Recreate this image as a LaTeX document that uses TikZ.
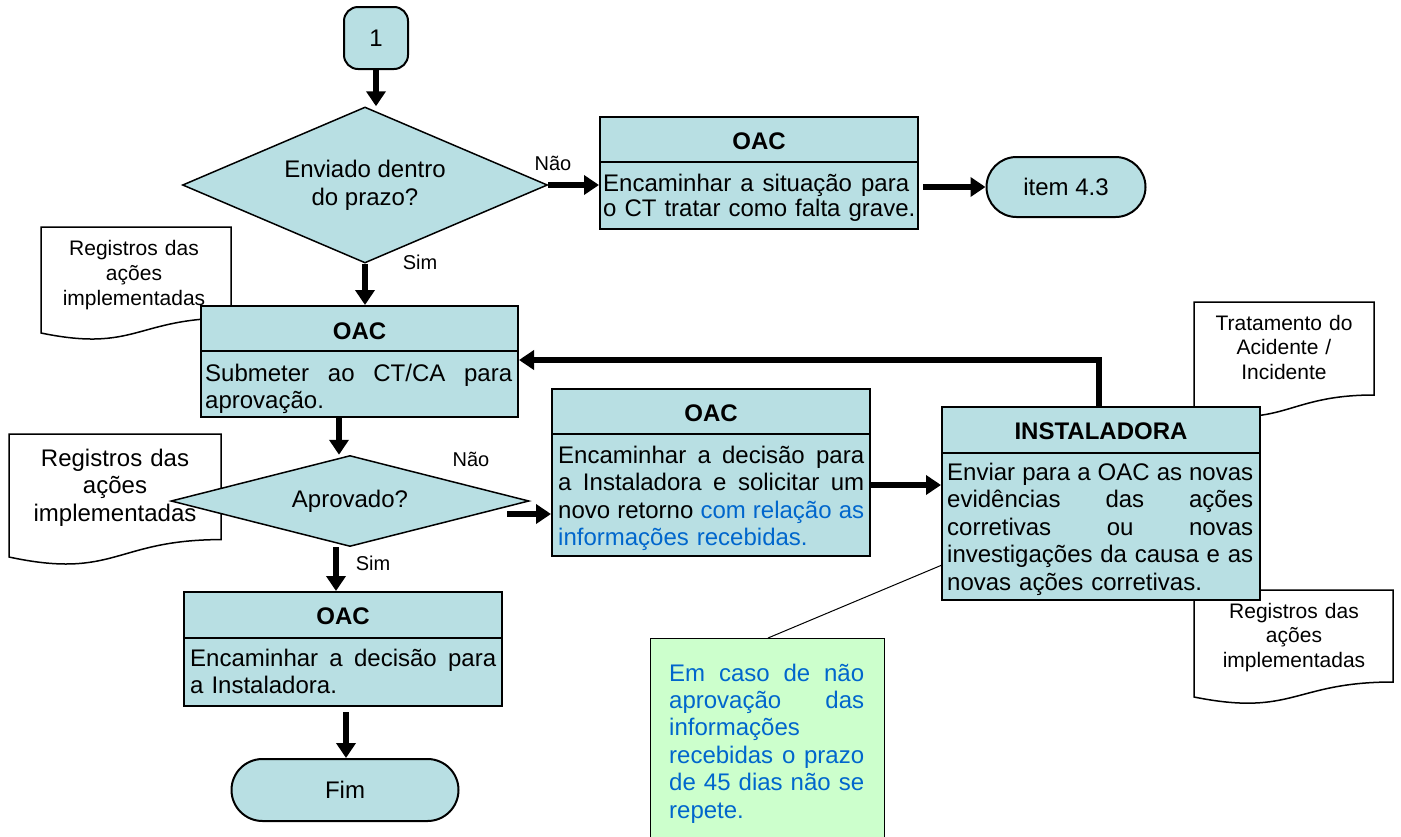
\documentclass[tikz,border=0pt]{standalone}
\usepackage{fontspec}
\setmainfont{Liberation Sans}
\usetikzlibrary{arrows.meta,shapes.geometric}
\definecolor{boxfill}{RGB}{184,223,227}
\definecolor{notefill}{RGB}{204,255,204}
\definecolor{bluetxt}{RGB}{0,102,204}
\newcommand\jl[2]{\leavevmode\hbox to #1{\spaceskip=0.278em plus 1fil\relax #2}}
\begin{document}
\begin{tikzpicture}[x=1pt,y=-1pt,
  box/.style={draw, line width=2pt, fill=boxfill, inner sep=0pt},
  divline/.style={line width=1.5pt},
  hdr/.style={font=\fontsize{24}{27.5}\selectfont\bfseries, inner sep=0pt},
  body/.style={anchor=base west, text width=316pt, align=left, inner sep=0pt, font=\fontsize{24}{27.5}\selectfont},
  term/.style={draw, line width=2pt, fill=boxfill, inner sep=0pt, font=\fontsize{24}{27.5}\selectfont},
  dec/.style={diamond, draw, line width=1.5pt, fill=boxfill, inner sep=0pt, aspect=2.3, font=\fontsize{24}{28}\selectfont, align=center},
  docshape/.style={draw, line width=1.5pt, fill=white},
  doctext/.style={anchor=base, text width=210pt, align=center, inner sep=0pt},
  lbl/.style={font=\fontsize{20}{24}\selectfont, inner sep=0pt},
  arr/.style={line width=5.5pt, -{Triangle[length=15pt,width=19pt]}}]
\useasboundingbox (0,0) rectangle (1401,836);

% documents
\draw[docshape] (41,227) -- (231,227) -- (231,318) .. controls (136,318) and (136,352.6) .. (41,333) -- cycle;
\node[doctext, font=\fontsize{21}{25}\selectfont] (doc1) at (134,255) {Registros das\\ações\\implementadas};
\draw[docshape] (9,434) -- (221,434) -- (221,539.6) .. controls (115,539.6) and (115,579.8) .. (9,557) -- cycle;
\node[doctext, font=\fontsize{24}{27.5}\selectfont] (doc2) at (115,466) {Registros das\\ações\\implementadas};
\draw[docshape] (1194,302) -- (1374,302) -- (1374,395) .. controls (1284,395) and (1284,430.4) .. (1194,410.3) -- cycle;
\node[doctext, font=\fontsize{21}{24.5}\selectfont] (doc3) at (1284,330) {Tratamento do\\Acidente /\\Incidente};
\draw[docshape] (1194,590) -- (1393,590) -- (1393,682) .. controls (1293.5,682) and (1293.5,717) .. (1194,697) -- cycle;
\node[doctext, font=\fontsize{21}{24.5}\selectfont] (doc4) at (1294,618) {Registros das\\ações\\implementadas};

% note
\coordinate (nl) at (768,638);
\draw[line width=1pt] (nl) -- (942,565);
\node[draw, line width=1pt, fill=notefill, minimum width=234pt, minimum height=212pt, inner sep=0pt] (note) at (767,744) {};
\node[anchor=base west, text width=200pt, align=left, inner sep=0pt, text=bluetxt, font=\fontsize{24}{27.4}\selectfont] (notet) at (669,681)
 {\jl{195pt}{Em caso de não}\\\jl{195pt}{aprovação das}\\informações\\\jl{195pt}{recebidas o prazo}\\\jl{195pt}{de 45 dias não se}\\repete.};

% start connector
\node[term, rounded corners=14pt, minimum width=64pt, minimum height=62pt] (c1) at (376,38) {1};

% decision 1
\node[dec, minimum width=365pt, minimum height=156pt] (d1) at (365,185) {Enviado dentro\\do prazo?};
\node[lbl] (nao1) at (553,163) {Não};
\node[lbl] (sim1) at (420,262) {Sim};

% box 1
\node[box, minimum width=318pt, minimum height=112pt] (b1) at (759,173) {};
\draw[divline] (600,162) -- (918,162);
\node[hdr] (b1h) at (759,141) {OAC};
\node[body, font=\fontsize{24}{25.5}\selectfont] (b1t) at (603,191) {\jl{306pt}{Encaminhar a situação para}\\o CT tratar como falta grave.};

% item 4.3
\node[term, rounded corners=30pt, minimum width=159pt, minimum height=60pt] (item) at (1066,187) {item 4.3};

% box 2
\node[box, minimum width=317pt, minimum height=111pt] (b2) at (359.5,361.5) {};
\draw[divline] (201,351) -- (518,351);
\node[hdr] (b2h) at (359.5,331) {OAC};
\node[body] (b2t) at (205,381) {\jl{307pt}{Submeter ao CT/CA para}\\aprovação.};

% decision 2
\node[dec, minimum width=358pt, minimum height=91pt] (d2) at (350,501) {Aprovado?};
\node[lbl] (nao2) at (471,459) {Não};
\node[lbl] (sim2) at (373,563) {Sim};

% box 3
\node[box, minimum width=318pt, minimum height=167pt] (b3) at (711,472.5) {};
\draw[divline] (552,434) -- (870,434);
\node[hdr] (b3h) at (711,413) {OAC};
\node[body] (b3t) at (558,463) {\jl{306pt}{Encaminhar a decisão para}\\\jl{306pt}{a Instaladora e solicitar um}\\\jl{306pt}{novo retorno \textcolor{bluetxt}{com relação as}}\\\textcolor{bluetxt}{informações recebidas.}};

% instaladora
\node[box, minimum width=318pt, minimum height=193pt] (inst) at (1101,503.5) {};
\draw[divline] (942,453) -- (1260,453);
\node[hdr] (insth) at (1101,431) {INSTALADORA};
\node[body] (instt) at (947,480) {\jl{306pt}{Enviar para a OAC as novas}\\\jl{306pt}{evidências das ações}\\\jl{306pt}{corretivas ou novas}\\\jl{306pt}{investigações da causa e as}\\novas ações corretivas.};

% box 5
\node[box, minimum width=318pt, minimum height=114pt] (b5) at (343,649) {};
\draw[divline] (184,638) -- (502,638);
\node[hdr] (b5h) at (343,616) {OAC};
\node[body] (b5t) at (190,666) {\jl{306pt}{Encaminhar a decisão para}\\a Instaladora.};

% fim
\node[term, rounded corners=31pt, minimum width=227pt, minimum height=62pt] (fim) at (345,790) {Fim};

% arrows
\draw[arr] (c1.south) -- (c1.south |- d1.north);
\draw[arr] (d1.east) -- (d1.east -| b1.west);
\coordinate (b1o) at (923,187);
\draw[arr] (b1o) -- (item.west);
\draw[arr] (d1.south) -- (d1.south |- b2.north);
\coordinate (fb) at (1099,360);
\draw[arr] (inst.north -| fb) -- (fb) -- (fb -| b2.east);
\coordinate (ax) at (339,0);
\draw[arr] (b2.south -| ax) -- (d2.north -| ax);
\coordinate (d2o) at (507,514);
\draw[arr] (d2o) -- (d2o -| b3.west);
\coordinate (b3o) at (870,485);
\draw[arr] (b3o) -- (b3o -| inst.west);
\coordinate (ax2) at (336,0);
\draw[arr] (d2.south -| ax2) -- (b5.north -| ax2);
\coordinate (b5o) at (346,712);
\draw[arr] (b5o) -- (b5o |- fim.north);
\end{tikzpicture}
\end{document}
